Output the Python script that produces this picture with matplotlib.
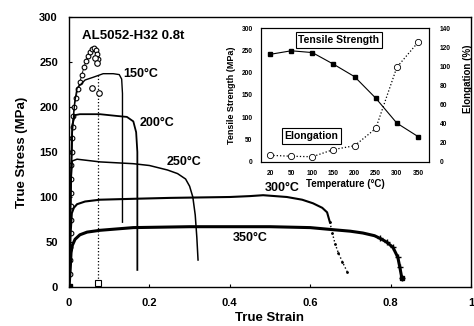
import numpy as np
import matplotlib
matplotlib.use("Agg")
from matplotlib import pyplot as plt

plt.rcParams['font.family'] = ['Liberation Sans', 'DejaVu Sans']
plt.rcParams['font.weight'] = 'bold'
plt.rcParams['axes.labelweight'] = 'bold'

# room temperature curve (open markers)
rt_strain = [0, 0.002, 0.003, 0.003, 0.004, 0.004, 0.005, 0.005, 0.006, 0.006, 0.007, 0.008,
             0.009, 0.010, 0.013, 0.017, 0.022, 0.027, 0.032, 0.037, 0.042, 0.047, 0.052,
             0.057, 0.062, 0.066, 0.069, 0.071]
rt_stress = [0, 15, 30, 45, 60, 75, 90, 105, 120, 135, 150, 165,
             178, 190, 200, 210, 220, 228, 236, 244, 251, 257, 261,
             264, 265, 263, 259, 253]
rt_frac_strain = [0.071, 0.071]
rt_frac_stress = [235, 4]
rt_scatter_strain = [0.065, 0.070, 0.057, 0.075]
rt_scatter_stress = [254, 249, 221, 216]

t150_strain = [0, 0.004, 0.008, 0.014, 0.020, 0.040, 0.060, 0.085, 0.110, 0.125, 0.131, 0.133, 0.133, 0.133]
t150_stress = [0, 90, 170, 205, 221, 230, 233, 237, 237, 236, 231, 215, 150, 72]

t200_strain = [0, 0.004, 0.008, 0.015, 0.027, 0.077, 0.120, 0.144, 0.160, 0.167, 0.170, 0.170, 0.170]
t200_stress = [0, 110, 180, 191, 192, 192, 190, 189, 184, 172, 150, 80, 19]

t250_strain = [0, 0.004, 0.008, 0.020, 0.077, 0.160, 0.200, 0.245, 0.270, 0.290, 0.300, 0.308,
               0.314, 0.318, 0.321]
t250_stress = [0, 110, 140, 142, 139, 137, 135, 130, 126, 120, 112, 100, 80, 55, 30]

t300_strain = [0, 0.004, 0.007, 0.012, 0.020, 0.040, 0.077, 0.160, 0.250, 0.400, 0.450, 0.483,
               0.542, 0.580, 0.607, 0.630, 0.642, 0.649]
t300_stress = [0, 60, 82, 88, 92, 95, 97, 98, 99, 100, 101, 102, 100, 97, 93, 88, 83, 72]
t300_tail_strain = [0.649, 0.655, 0.662, 0.670, 0.680, 0.692]
t300_tail_stress = [72, 60, 48, 38, 28, 17]

t350_strain = [0, 0.003, 0.005, 0.008, 0.015, 0.027, 0.045, 0.077, 0.160, 0.300, 0.400, 0.500,
               0.600, 0.649, 0.700, 0.731, 0.760, 0.774, 0.790, 0.806, 0.818, 0.823, 0.828]
t350_stress = [0, 20, 38, 46, 53, 58, 61, 63, 66, 67, 67, 67,
               66, 64, 62, 60, 57, 54, 50, 44, 33, 22, 10]

# inset: strength / elongation vs temperature
temps = ['20', '50', '100', '150', '200', '250', '300', '350']
tensile = [241, 249, 245, 219, 191, 143, 87, 57]
elong = [7, 6, 5.5, 13, 17, 35, 99, 125]

fig = plt.figure(figsize=(4.74, 3.26), dpi=100)
ax = fig.add_axes([0.1456, 0.1196, 0.848, 0.8283])

ax.plot(rt_strain, rt_stress, color='black', lw=0.6, marker='o', ms=3.4,
        mfc='white', mec='black', mew=0.8)
ax.plot(rt_frac_strain, rt_frac_stress, color='black', lw=0.9, ls=':')
ax.plot([rt_frac_strain[-1]], [rt_frac_stress[-1]], marker='s', ms=4, mfc='white',
        mec='black', mew=0.8, ls='none')
ax.plot(rt_scatter_strain, rt_scatter_stress, marker='o', ms=4, mfc='white',
        mec='black', mew=0.8, ls='none')
ax.plot([0], [0], marker='s', ms=4, color='black', ls='none')

ax.plot(t150_strain, t150_stress, color='black', lw=1.0)
ax.plot(t200_strain, t200_stress, color='black', lw=1.3)
ax.plot(t250_strain, t250_stress, color='black', lw=1.1)
ax.plot(t300_strain, t300_stress, color='black', lw=1.5)
ax.plot(t300_tail_strain, t300_tail_stress, color='black', lw=1.0, ls=':',
        marker='.', ms=2)
ax.plot(t350_strain, t350_stress, color='black', lw=2.2)
ax.plot(t350_strain[-6:], t350_stress[-6:], color='black', lw=0, marker='+', ms=4)
ax.plot([t350_strain[-1]], [t350_stress[-1]], marker='s', ms=3.5, color='black')

ax.text(0.135, 237, '150°C', fontsize=9, va='center', ha='left')
ax.text(0.176, 182, '200°C', fontsize=9, va='center', ha='left')
ax.text(0.244, 139, '250°C', fontsize=9, va='center', ha='left')
ax.text(0.488, 110, '300°C', fontsize=9, va='center', ha='left')
ax.text(0.408, 54, '350°C', fontsize=9, va='center', ha='left')
ax.text(0.032, 286, 'AL5052-H32 0.8t', fontsize=9.5, va='top', ha='left')

ax.set_xlim(0, 1)
ax.set_ylim(0, 300)
ax.set_xticks([0, 0.2, 0.4, 0.6, 0.8, 1])
ax.set_xticklabels(['0', '0.2', '0.4', '0.6', '0.8', '1'])
ax.set_yticks([0, 50, 100, 150, 200, 250, 300])
ax.tick_params(direction='in', length=2, width=0.8, labelsize=8, pad=8)
ax.set_xlabel('True Strain', fontsize=9.5, labelpad=3)
ax.set_ylabel('True Stress (MPa)', fontsize=9.5, labelpad=8)
for s in ax.spines.values():
    s.set_linewidth(1.0)

# inset
ins = fig.add_axes([0.5506, 0.5031, 0.3544, 0.411])
pos = np.arange(len(temps))
ins.plot(pos, tensile, color='black', lw=0.8, marker='s', ms=3)
ins.set_xlim(-0.43, 7.52)
ins.set_ylim(0, 300)
ins.set_yticks([0, 50, 100, 150, 200, 250, 300])
ins.set_xticks(pos)
ins.set_xticklabels(temps)
ins.tick_params(direction='in', length=0, labelsize=4.8, pad=6)
ins.set_xlabel('Temperature (°C)', fontsize=7, labelpad=1)
ins.set_ylabel('Tensile Strength (MPa)', fontsize=6.5, labelpad=4)
for s in ins.spines.values():
    s.set_linewidth(0.8)

ins2 = ins.twinx()
ins2.plot(pos, elong, color='black', lw=0.9, ls=':', marker='o', ms=4.5,
          mfc='white', mec='black', mew=0.6)
ins2.set_ylim(0, 140)
ins2.set_yticks([0, 20, 40, 60, 80, 100, 120, 140])
ins2.tick_params(direction='in', length=0, labelsize=4.8, pad=8)
ins2.set_ylabel('Elongation (%)', fontsize=7, labelpad=3)
ins2.yaxis.set_label_coords(1.2, 0.62)

box = dict(boxstyle='square,pad=0.25', fc='white', ec='black', lw=0.8)
ins.text(0.464, 0.91, 'Tensile Strength', transform=ins.transAxes, fontsize=7.5,
         ha='center', va='center', bbox=box)
ins.text(0.298, 0.194, 'Elongation', transform=ins.transAxes, fontsize=7.5,
         ha='center', va='center', bbox=box)

fig.savefig('out.png', dpi=100)
